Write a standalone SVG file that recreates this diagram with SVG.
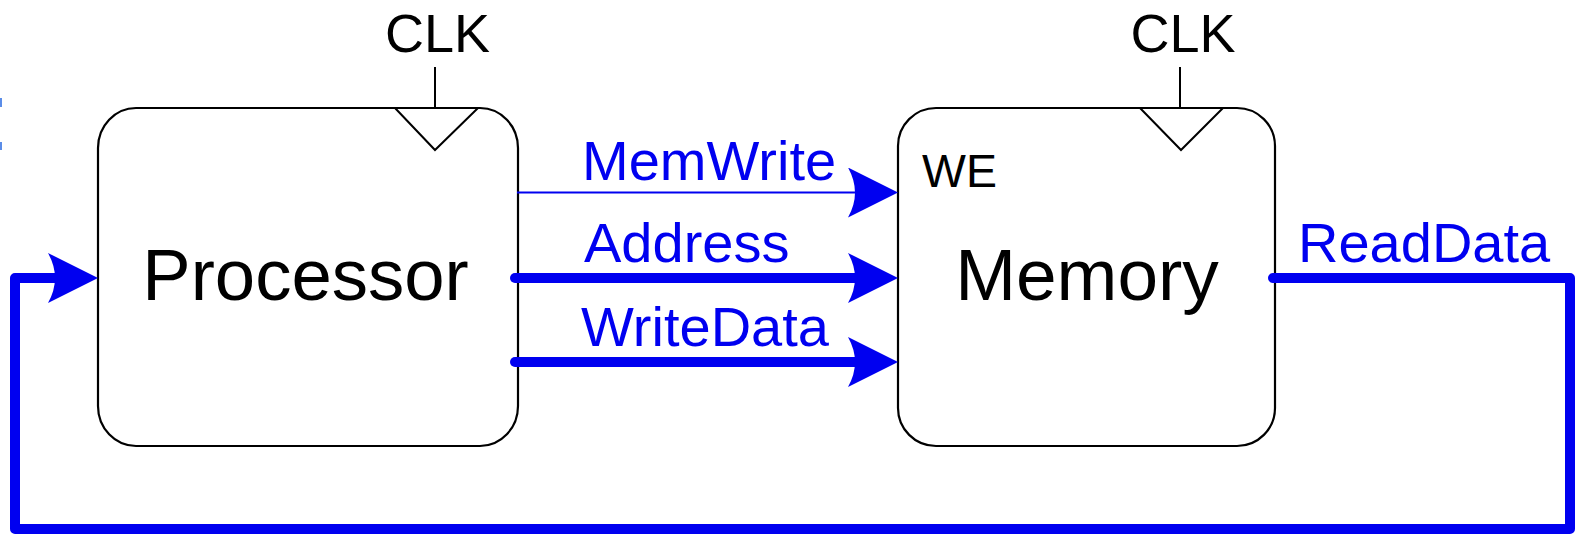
<svg xmlns="http://www.w3.org/2000/svg" width="1577" height="534" viewBox="0 0 1577 534">
<style>
.box{fill:#fff;stroke:#000;stroke-width:2.2}
.clk{fill:none;stroke:#000;stroke-width:2}
.txt{font-family:"Liberation Sans",Arial,sans-serif;fill:#000}
.lbl{font-family:"Liberation Sans",Arial,sans-serif;fill:#0000f0;font-size:56px}
.wire{fill:none;stroke:#0000f0;stroke-linecap:round;stroke-linejoin:round}
.bus{stroke-width:10}
.thin{stroke-width:2;stroke-linecap:butt}
</style>
<defs>
<marker id="ah" viewBox="0 0 50 50" refX="7" refY="25" markerWidth="50" markerHeight="50" markerUnits="userSpaceOnUse" orient="auto">
<path d="M0,0 L50,25 L0,50 Q14,25 0,0 Z" fill="#0000f0"/>
</marker>
</defs>
<rect x="0" y="98" width="2" height="9" fill="#5b8de8"/>
<rect x="0" y="142" width="2" height="8" fill="#5b8de8"/>
<g id="processor">
<rect class="box" x="98" y="108" width="420" height="338" rx="38" ry="40"/>
<path class="clk" d="M395,108 L435,150 L478,108 M435,67 L435,108"/>
<text class="txt" x="437.5" y="52" font-size="54" text-anchor="middle">CLK</text>
<text class="txt" x="305.5" y="300" font-size="72.5" text-anchor="middle">Processor</text>
</g>
<g id="memory">
<rect class="box" x="898" y="108" width="377" height="338" rx="38" ry="38"/>
<path class="clk" d="M1140,108 L1181,150 L1223,108 M1180,67 L1180,108"/>
<text class="txt" x="1183" y="52" font-size="54" text-anchor="middle">CLK</text>
<text class="txt" x="922" y="187" font-size="46.5">WE</text>
<text class="txt" x="1087" y="300" font-size="73" text-anchor="middle">Memory</text>
</g>
<g id="connectors">
<path class="wire thin" d="M517,192.5 L855,192.5" marker-end="url(#ah)"/>
<path class="wire bus" d="M515,278 L855,278" marker-end="url(#ah)"/>
<path class="wire bus" d="M515,362 L855,362" marker-end="url(#ah)"/>
<path class="wire bus" d="M1273,278 L1570,278 L1570,529 L15,529 L15,278 L55,278" marker-end="url(#ah)"/>
<text class="lbl" x="582" y="180">MemWrite</text>
<text class="lbl" x="584" y="262">Address</text>
<text class="lbl" x="581" y="346">WriteData</text>
<text class="lbl" x="1298" y="262">ReadData</text>
</g>
</svg>
